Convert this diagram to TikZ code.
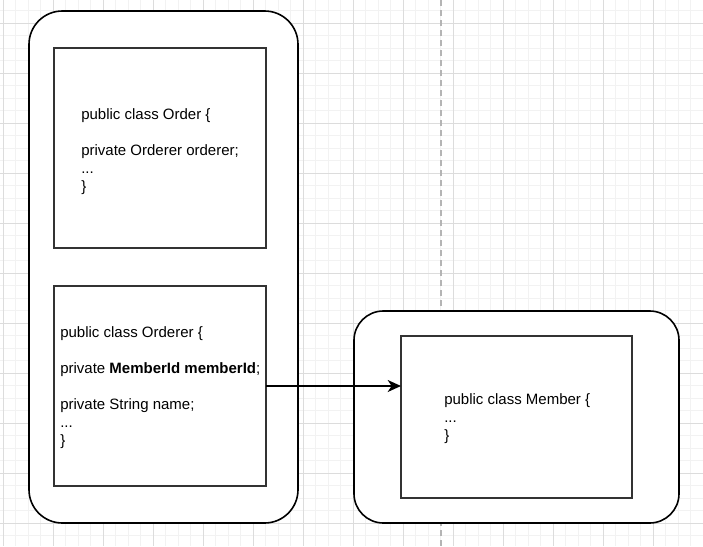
\documentclass[tikz,border=0pt]{standalone}
\usepackage{fontspec}
\setmainfont{Liberation Sans}
\usetikzlibrary{arrows.meta}
\definecolor{gridminor}{HTML}{F2F2F2}
\definecolor{gridmajor}{HTML}{DCDCDC}
\definecolor{dashgray}{HTML}{B4B4B4}
\definecolor{boxline}{HTML}{333333}
\begin{document}
\begin{tikzpicture}[x=0.75pt,y=-0.75pt,
  outerbox/.style={draw=black,fill=white,line width=1.2pt,rounded corners=#1,anchor=north west,inner sep=0pt,outer sep=0pt},
  classbox/.style={draw=boxline,fill=white,line width=1pt,anchor=north west,inner sep=0pt,outer sep=0pt},
  code/.style={anchor=base west,align=left,inner sep=0pt,font=\fontsize{11.25pt}{13.5pt}\selectfont},
  minorline/.style={draw=gridminor,line width=0.75pt},
  majorline/.style={draw=gridmajor,line width=0.75pt},
  link/.style={draw=black,line width=1pt,-{Stealth[length=10pt,width=9pt,inset=3pt]}}]
\useasboundingbox (0,0) rectangle (703,546);
\fill[white] (0,0) rectangle (703,546);
\begin{scope}
\clip (0,0) rectangle (703,546);
\foreach \x in {-9.2,3.3,...,710} \draw[minorline] (\x,0) -- (\x,546);
\foreach \y in {-1.7,10.8,...,550} \draw[minorline] (0,\y) -- (703,\y);
\foreach \x in {3.3,53.3,...,710} \draw[majorline] (\x,0) -- (\x,546);
\foreach \y in {23.3,73.3,...,550} \draw[majorline] (0,\y) -- (703,\y);
\end{scope}
\coordinate (dtop) at (441,0);
\coordinate (dbot) at (441,546);
\draw[dashgray,line width=1pt,dash pattern=on 4.5pt off 3pt] (dtop) -- (dbot);
% outer rounded containers
\node[outerbox=25pt,minimum width=269*0.75pt,minimum height=512*0.75pt] (left) at (29,11) {};
\node[outerbox=22pt,minimum width=325*0.75pt,minimum height=212*0.75pt] (right) at (354,311) {};
% class boxes
\node[classbox,minimum width=212*0.75pt,minimum height=200*0.75pt] (order) at (54,48) {};
\node[classbox,minimum width=212*0.75pt,minimum height=200*0.75pt] (orderer) at (54,286) {};
\node[classbox,minimum width=231*0.75pt,minimum height=162*0.75pt] (member) at (401,336) {};
% texts (anchored at the baseline of the last line)
\node[code] (ordertext) at (81,191) {public class Order \{\\[13.5pt]private Orderer orderer;\\...\\\}};
\node[code] (orderertext) at (60,445) {public class Orderer \{\\[13.5pt]private \textbf{MemberId memberId};\\[13.5pt]private String name;\\...\\\}};
\node[code] (membertext) at (444,440) {public class Member \{\\...\\\}};
% connector
\draw[link] (orderer.east) -- (orderer.east -| member.west);
\end{tikzpicture}
\end{document}
